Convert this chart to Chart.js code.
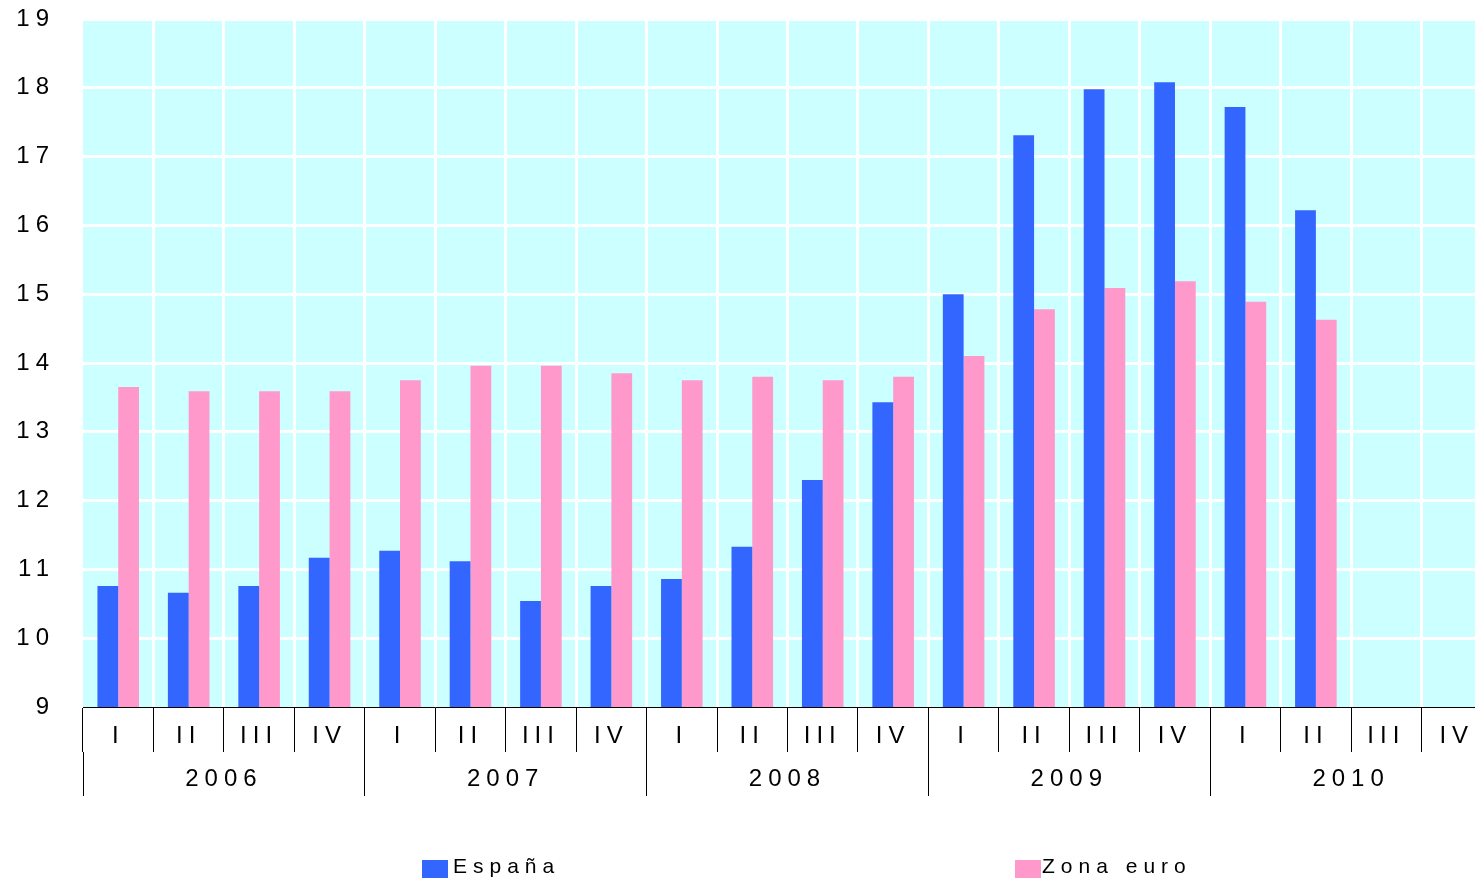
<!DOCTYPE html>
<html lang="es">
<head>
  <meta charset="UTF-8">
  <title>España / Zona euro</title>
  <script src="https://cdn.jsdelivr.net/npm/chart.js@4.4.1/dist/chart.umd.min.js"></script>
  <style>
  body {
    margin: 0;
    padding: 0;
    background: #fff;
    overflow: hidden;
  }
  /* the original plot runs a bit past the right edge of the picture */
  .chart-box {
    position: relative;
    width: 1492px;
    height: 880px;
  }
  </style>
</head>
<body>
<div class="chart-box">
  <canvas id="paroChart"></canvas>
</div>

<script>
  // data
  var quarters = ['I', 'II', 'III', 'IV', 'I', 'II', 'III', 'IV', 'I', 'II', 'III', 'IV',
                  'I', 'II', 'III', 'IV', 'I', 'II', 'III', 'IV'];
  var years = ['2006', '2007', '2008', '2009', '2010'];
  var espana = [10.76, 10.66, 10.76, 11.17, 11.27, 11.12, 10.54, 10.76, 10.86, 11.33,
                12.30, 13.43, 15.00, 17.31, 17.98, 18.08, 17.72, 16.22, null, null];
  var zonaEuro = [13.65, 13.59, 13.59, 13.59, 13.75, 13.96, 13.96, 13.85, 13.75, 13.80,
                  13.75, 13.80, 14.10, 14.78, 15.09, 15.19, 14.89, 14.63, null, null];

  var FONT = "'Liberation Sans', Arial, sans-serif";

  // cyan plot background + spaced-out lettering like the original
  var backPlugin = {
    id: 'backPlugin',
    beforeDraw: function(chart) {
      var a = chart.chartArea, ctx = chart.ctx;
      ctx.save();
      ctx.fillStyle = '#CCFFFF';
      ctx.fillRect(a.left, a.top, a.right - a.left, a.bottom - a.top);
      ctx.restore();
      ctx.letterSpacing = '6px';
    }
  };

  // legend drawn by hand, the two items sit far apart
  var spreadLegend = {
    id: 'spreadLegend',
    afterDraw: function(chart, args, opts) {
      var ctx = chart.ctx;
      ctx.save();
      ctx.letterSpacing = '6px';
      ctx.font = '21px ' + FONT;
      ctx.textBaseline = 'alphabetic';
      ctx.textAlign = 'left';
      chart.data.datasets.forEach(function(ds, i) {
        var x = opts.xs[i];
        ctx.fillStyle = ds.backgroundColor;
        ctx.fillRect(x, opts.top, 26, 18);
        ctx.fillStyle = '#000';
        ctx.fillText(ds.label, x + opts.gaps[i], opts.baseline);
      });
      ctx.restore();
    }
  };

  var ctx = document.getElementById('paroChart');
  var paroChart = new Chart(ctx, {
    type: 'bar',
    data: {
      labels: quarters,
      datasets: [{
        label: 'España',
        data: espana,
        backgroundColor: '#3366FF',
        categoryPercentage: 0.59,
        barPercentage: 1.0
      },
      {
        label: 'Zona euro',
        data: zonaEuro,
        backgroundColor: '#FF99CC',
        categoryPercentage: 0.59,
        barPercentage: 1.0
      }]
    },
    plugins: [backPlugin, spreadLegend],
    options: {
      responsive: true,
      maintainAspectRatio: false,
      animation: false,
      layout: {
        padding: { top: 19, right: 0, bottom: 84, left: 0 }
      },
      plugins: {
        legend: { display: false },
        tooltip: { enabled: false },
        spreadLegend: { xs: [422, 1015], gaps: [31, 27], top: 860, baseline: 873 }
      },
      scales: {
        x: {
          weight: 0,
          offset: true,
          grid: {
            offset: true,
            color: function(c) { return c.index === 0 ? 'rgba(0,0,0,0)' : '#FFFFFF'; },
            lineWidth: 3,
            tickColor: '#000',
            tickWidth: 1,
            tickLength: 45
          },
          border: { color: '#000', width: 1, z: 1 },
          ticks: {
            color: '#000',
            font: { family: FONT, size: 24 },
            padding: -30,
            maxRotation: 0,
            autoSkip: false
          },
          afterFit: function(s) { s.height = 45; }
        },
        x2: {
          type: 'category',
          labels: years,
          position: 'bottom',
          weight: 1,
          offset: true,
          grid: {
            offset: true,
            drawOnChartArea: false,
            color: '#000',
            lineWidth: 1,
            tickLength: 44
          },
          border: { display: false },
          ticks: {
            color: '#000',
            font: { family: FONT, size: 24 },
            padding: -31,
            maxRotation: 0,
            autoSkip: false
          },
          afterFit: function(s) { s.height = 44; }
        },
        y: {
          min: 9,
          max: 19,
          ticks: {
            stepSize: 1,
            color: '#000',
            font: { family: FONT, size: 24 },
            padding: 28
          },
          grid: {
            color: function(c) { return c.tick && c.tick.value === 9 ? 'rgba(0,0,0,0)' : '#FFFFFF'; },
            lineWidth: 3,
            drawTicks: false
          },
          border: { display: false },
          afterFit: function(s) { s.width = 83; s.paddingTop = 0; s.paddingBottom = 0; }
        }
      }
    }
  });
</script>
</body>
</html>
